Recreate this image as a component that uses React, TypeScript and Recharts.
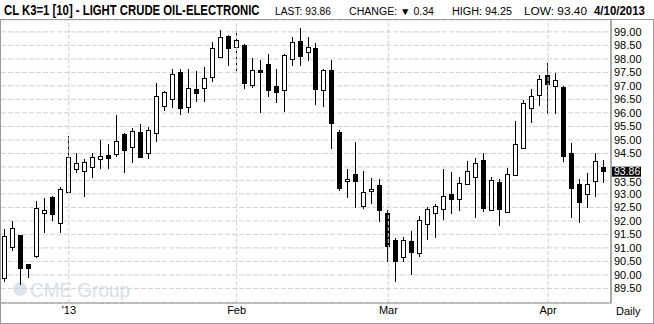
import { ComposedChart, Bar, XAxis, YAxis, CartesianGrid, ReferenceLine } from "recharts";

const dates = [
  "12/19", "12/20", "12/21", "12/24", "12/26", "12/27", "12/28", "12/31",
  "1/2", "1/3", "1/4", "1/7", "1/8", "1/9", "1/10", "1/11", "1/14", "1/15", "1/16", "1/17",
  "1/18", "1/22", "1/23", "1/24", "1/25", "1/28", "1/29", "1/30", "1/31",
  "2/1", "2/4", "2/5", "2/6", "2/7", "2/8", "2/11", "2/12", "2/13", "2/14", "2/15",
  "2/19", "2/20", "2/21", "2/22", "2/25", "2/26", "2/27", "2/28",
  "3/1", "3/4", "3/5", "3/6", "3/7", "3/8", "3/11", "3/12", "3/13", "3/14", "3/15",
  "3/18", "3/19", "3/20", "3/21", "3/22", "3/25", "3/26", "3/27", "3/28",
  "4/1", "4/2", "4/3", "4/4", "4/5", "4/8", "4/9", "4/10",
];

const opens = [
  89.87, 91.02, 91.47, 90.4, 90.71, 92.31, 92.87, 91.94,
  93.06, 93.94, 93.83, 93.98, 94.31, 94.43, 94.47, 95.22, 94.75, 95.28, 94.5, 95.24,
  96.25, 96.5, 97.51, 96.2, 96.87, 96.91, 97.32, 98.08, 98.84,
  98.43, 98.51, 97.02, 97.57, 97.81, 96.99, 96.86, 97.98, 98.66, 98.26, 98.4,
  96.86, 97.59, 95.29, 93.49, 93.73, 92.54, 93.09, 93.33,
  92.29, 91.29, 90.67, 91.25, 90.83, 91.87, 92.28, 92.43, 92.99, 92.8, 93.35,
  93.61, 94.25, 92.39, 93.43, 92.32, 93.69, 94.71, 96.17, 96.65,
  97.4, 96.98, 96.97, 94.5, 93.35, 92.98, 93.46, 94.0,
];
const highs = [
  91.7, 91.99, 91.47, 90.4, 92.73, 92.86, 92.92, 93.24,
  95.15, 94.5, 94.28, 94.5, 94.99, 94.86, 95.92, 95.24, 95.45, 95.59, 95.46, 97.12,
  96.82, 97.62, 97.62, 97.62, 97.55, 97.7, 98.61, 99.07, 98.88,
  99.07, 98.55, 98.03, 97.96, 98.18, 97.62, 98.19, 98.8, 99.14, 98.8, 98.57,
  97.61, 97.96, 95.36, 93.92, 94.92, 93.84, 93.6, 93.57,
  92.4, 91.35, 91.41, 91.62, 92.19, 92.5, 92.62, 93.92, 93.81, 93.61, 94.22,
  94.34, 94.5, 93.62, 93.54, 93.96, 95.7, 96.47, 96.88, 97.4,
  97.83, 97.46, 97.0, 94.87, 93.57, 93.76, 94.5, 94.25,
];
const lows = [
  89.74, 90.89, 89.62, 89.89, 90.63, 91.56, 92.0, 91.57,
  93.04, 93.76, 92.89, 93.6, 93.94, 93.94, 94.35, 93.76, 94.15, 94.34, 94.28, 94.93,
  96.08, 96.18, 95.93, 96.0, 96.41, 96.41, 97.15, 98.04, 97.74,
  97.52, 96.88, 96.91, 96.0, 96.6, 96.35, 96.04, 97.74, 97.74, 97.93, 96.29,
  96.23, 94.67, 93.1, 92.86, 92.49, 92.44, 92.61, 91.97,
  90.49, 89.74, 90.49, 89.99, 90.67, 91.31, 91.35, 92.03, 92.26, 92.37, 93.33,
  92.12, 92.34, 92.37, 91.82, 92.3, 93.67, 94.66, 95.61, 96.26,
  95.95, 95.95, 94.19, 92.12, 91.91, 92.46, 92.87, 93.4,
];
const closes = [
  91.44, 91.73, 90.26, 90.24, 92.46, 92.4, 92.24, 93.17,
  94.35, 94.13, 94.19, 94.35, 94.39, 94.34, 94.97, 94.63, 95.32, 94.35, 95.36, 96.61,
  96.77, 97.44, 96.19, 96.91, 96.72, 97.28, 98.39, 98.8, 98.39,
  98.69, 97.09, 97.57, 97.52, 96.86, 96.78, 98.14, 98.61, 98.12, 98.43, 96.89,
  97.59, 95.63, 93.23, 93.57, 93.49, 93.06, 93.17, 92.41,
  91.08, 90.52, 91.28, 90.86, 92.02, 92.43, 92.54, 92.94, 92.82, 93.4, 93.83,
  94.13, 92.49, 93.5, 92.43, 93.72, 94.83, 96.35, 96.61, 97.24,
  97.06, 97.2, 94.41, 93.23, 92.69, 93.35, 94.2, 93.86,
];

const yTicks = [89.5, 90, 90.5, 91, 91.5, 92, 92.5, 93, 93.5, 94, 94.5, 95, 95.5, 96, 96.5, 97, 97.5, 98, 98.5, 99];
const monthTicks = ["1/2", "2/1", "3/1", "4/1"];
const monthLabels = ["'13", "Feb", "Mar", "Apr"];
const LAST = 93.86;

const data = dates.map((date, i) => ({
  date,
  open: opens[i],
  high: highs[i],
  low: lows[i],
  close: closes[i],
}));

const FONT = "'Liberation Sans', Arial, sans-serif";

function Candle(props: any) {
  const { x, y, width, height, payload } = props;
  if (x == null || payload == null) return null;
  const top = Math.min(y, y + height);
  const h = Math.abs(height);
  const { open, high, low, close } = payload;
  const span = high - low || 1;
  const toY = (v: number) => top + ((high - v) / span) * h;
  const cx = Math.floor(x + width / 2);
  const up = close >= open;
  const bTop = Math.round(toY(Math.max(open, close)));
  const bBot = Math.max(bTop + 1, Math.round(toY(Math.min(open, close))));
  return (
    <g>
      <line x1={cx + 0.5} x2={cx + 0.5} y1={Math.round(toY(high))} y2={Math.round(toY(low))} stroke="#000" strokeWidth={1} />
      <rect
        x={cx - 2 + 0.5}
        y={bTop + 0.5}
        width={4}
        height={bBot - bTop}
        fill={up ? "#fff" : "#000"}
        stroke="#000"
        strokeWidth={1}
      />
    </g>
  );
}

// the last-price box sits where the 94.00 label would be, so that one is skipped
function PriceTick(props: any) {
  const { x, y, payload } = props;
  if (Math.abs(payload.value - 94) < 0.01) return <g />;
  const nudge = Math.abs(payload.value - 93.5) < 0.01 ? 2 : 0;
  return (
    <text x={x} y={y + nudge} dy="0.36em" fontSize={11} fill="#000" fontFamily={FONT} textAnchor="start">
      {payload.value.toFixed(2)}
    </text>
  );
}

function LastLabel(props: any) {
  const vb = props.viewBox;
  if (!vb) return null;
  const x = vb.x + vb.width + 1;
  const y = vb.y - 4;
  return (
    <g>
      <rect x={x} y={y} width={29} height={10} fill="#000" />
      <text x={x + 2} y={y + 8} fill="#fff" fontSize={10.5} fontFamily={FONT}>
        {LAST.toFixed(2)}
      </text>
    </g>
  );
}

export default function App() {
  return (
    <div style={{ position: "fixed", left: 0, top: 0, width: 654, height: 324, background: "#fff" }}>
      <svg width={654} height={324} style={{ position: "absolute", left: 0, top: 0 }}>
        <circle cx={20} cy={289} r={7} fill="#dde6f0" />
        <text x={30} y={297} fontSize={21} fontFamily={FONT} fill="#d8dfe8" textLength={100} lengthAdjust="spacingAndGlyphs">
          CME Group
        </text>
      </svg>
      <div style={{ position: "absolute", left: 0, top: 0 }}>
        <ComposedChart width={654} height={324} data={data} margin={{ top: 20, right: 0, bottom: 0, left: 1 }}>
          <CartesianGrid vertical={false} stroke="#cdd3cd" strokeDasharray="5 2" />
          <XAxis
            dataKey="date"
            ticks={monthTicks}
            interval={0}
            tickFormatter={(v: string) => monthLabels[monthTicks.indexOf(v)] ?? ""}
            tickLine={false}
            axisLine={{ stroke: "#888" }}
            tick={{ fontSize: 11, fill: "#000", fontFamily: FONT }}
            tickSize={0}
            tickMargin={3}
            height={21}
            padding={{ left: 0, right: 3 }}
          />
          <YAxis
            orientation="right"
            domain={[88.96, 99.44]}
            allowDataOverflow
            ticks={yTicks}
            interval={0}
            tickLine={false}
            axisLine={{ stroke: "#555" }}
            tick={<PriceTick />}
            tickSize={0}
            tickMargin={3}
            width={43}
          />
          {monthTicks.map((m) => (
            <ReferenceLine key={m} x={m} stroke="#cfcfcf" strokeDasharray="4 2" />
          ))}
          <ReferenceLine y={LAST} stroke="none" label={<LastLabel />} />
          <Bar dataKey={(d: any) => [d.low, d.high]} shape={<Candle />} barSize={5} isAnimationActive={false} />
        </ComposedChart>
      </div>
      <svg width={654} height={324} style={{ position: "absolute", left: 0, top: 0, pointerEvents: "none" }}>
        <g transform="translate(4,15) scale(0.81,1)">
          <text x={0} y={0} fontSize={14} fontWeight="bold" fontFamily={FONT}>
            CL K3=1 [10] - LIGHT CRUDE OIL-ELECTRONIC
          </text>
        </g>
        <text x={275} y={15} fontSize={10} fontFamily={FONT} textLength={56} lengthAdjust="spacingAndGlyphs">
          LAST: 93.86
        </text>
        <text x={349} y={15} fontSize={10} fontFamily={FONT} textLength={85} lengthAdjust="spacingAndGlyphs">
          CHANGE: ▼ 0.34
        </text>
        <text x={452} y={15} fontSize={10} fontFamily={FONT} textLength={60} lengthAdjust="spacingAndGlyphs">
          HIGH: 94.25
        </text>
        <text x={524} y={15} fontSize={10} fontFamily={FONT} textLength={63} lengthAdjust="spacingAndGlyphs">
          LOW: 93.40
        </text>
        <g transform="translate(594,15) scale(0.88,1)">
          <text x={0} y={0} fontSize={13} fontWeight="bold" fontFamily={FONT}>
            4/10/2013
          </text>
        </g>
        <text x={616} y={315} fontSize={11} fontFamily={FONT}>
          Daily
        </text>
        <rect x={0.5} y={19.5} width={653} height={304} fill="none" stroke="#999" />
      </svg>
    </div>
  );
}
